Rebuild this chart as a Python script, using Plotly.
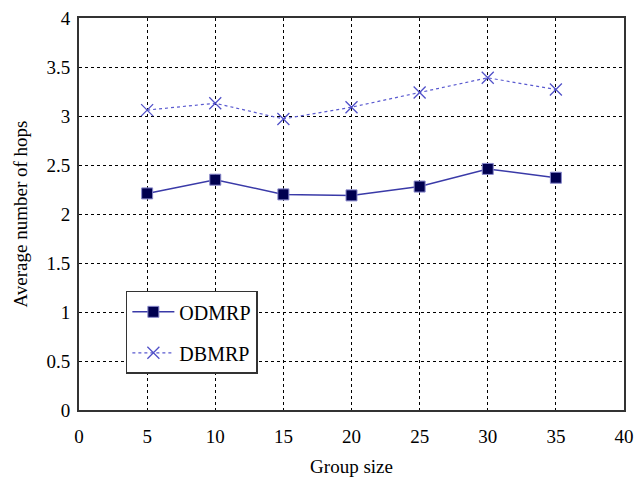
import plotly.graph_objects as go

group_size = [5, 10, 15, 20, 25, 30, 35]
odmrp = [2.21, 2.35, 2.20, 2.19, 2.28, 2.46, 2.37]
dbmrp = [3.06, 3.13, 2.97, 3.09, 3.24, 3.39, 3.27]

x_ticks = [0, 5, 10, 15, 20, 25, 30, 35, 40]
y_ticks = [0, 0.5, 1, 1.5, 2, 2.5, 3, 3.5, 4]
y_labels = ["0", "0.5", "1", "1.5", "2", "2.5", "3", "3.5", "4"]

font = "Liberation Serif, Times New Roman, serif"

fig = go.Figure()
fig.add_trace(go.Scatter(
    x=group_size, y=odmrp, name="ODMRP", mode="lines+markers",
    legendgroup="a",
    line=dict(color="#3a3aa8", width=1.5),
    marker=dict(symbol="square", size=11, color="#000050",
                line=dict(color="#8888cc", width=1)),
))
fig.add_trace(go.Scatter(
    x=group_size, y=dbmrp, name="DBMRP", mode="lines+markers",
    legendgroup="b",
    line=dict(color="#5a5ad0", width=1.2, dash="dot"),
    marker=dict(symbol="x-thin-open", size=12, color="#5050c8",
                line=dict(color="#5050c8", width=1.3)),
))

fig.update_layout(
    width=641, height=484,
    margin=dict(l=79, r=17, t=18, b=74),
    paper_bgcolor="white", plot_bgcolor="white",
    font=dict(family=font, size=19, color="black"),
    showlegend=True,
    legend=dict(x=0.086, y=0.304, xanchor="left", yanchor="top",
                bgcolor="white", bordercolor="#333333", borderwidth=1.5,
                font=dict(family=font, size=20),
                tracegroupgap=12, itemwidth=42),
    xaxis=dict(range=[0, 40], tickvals=x_ticks, automargin=False,
               ticks="outside", ticklen=8, tickcolor="rgba(0,0,0,0)",
               showgrid=True, gridcolor="black", griddash="dot", gridwidth=1,
               showline=True, linecolor="#333333", linewidth=2, mirror=True,
               zeroline=False,
               title=dict(text="Group size", standoff=14,
                          font=dict(family=font, size=19)),
               tickfont=dict(family=font, size=19)),
    yaxis=dict(range=[0, 4], tickvals=y_ticks, ticktext=y_labels,
               automargin=False,
               ticks="outside", ticklen=3, tickcolor="rgba(0,0,0,0)",
               showgrid=True, gridcolor="black", griddash="dot", gridwidth=1,
               showline=True, linecolor="#333333", linewidth=2, mirror=True,
               zeroline=False,
               title=dict(text="Average number of hops", standoff=14,
                          font=dict(family=font, size=19)),
               tickfont=dict(family=font, size=19)),
)

fig.write_html("out.html", config={"displayModeBar": False},
               post_script="document.body.style.margin='0';")
